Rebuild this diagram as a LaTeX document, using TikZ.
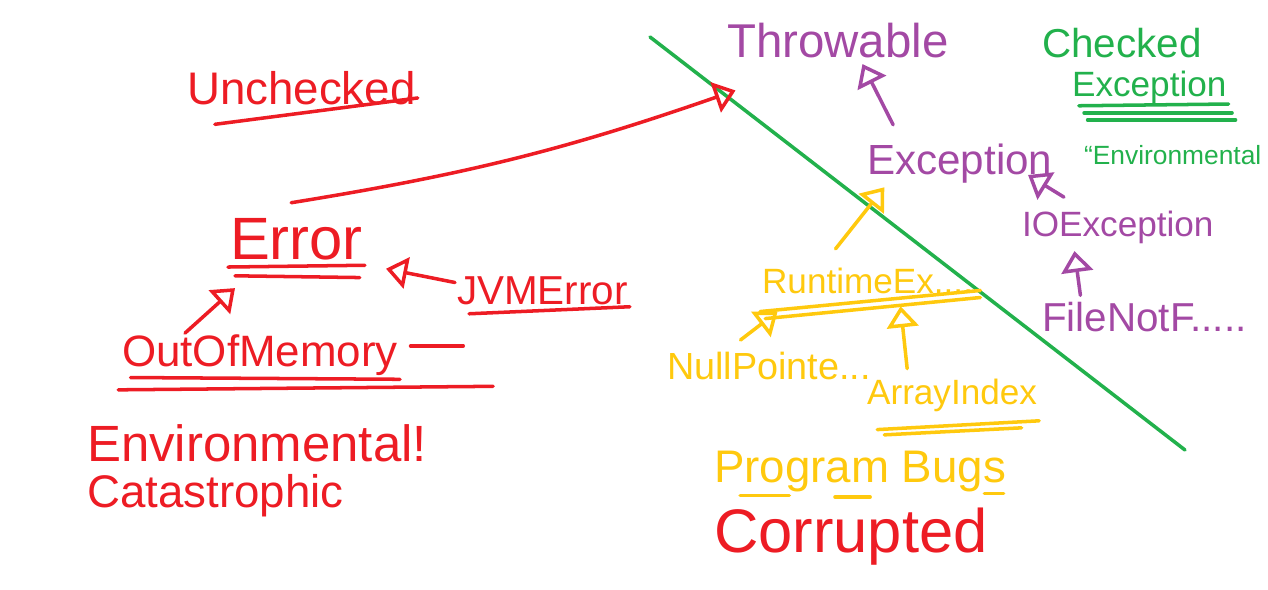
\documentclass[tikz,border=0pt]{standalone}
\usepackage{fontspec}
\setmainfont{Liberation Sans}
\usetikzlibrary{arrows.meta, positioning}
\definecolor{pred}{RGB}{237,28,36}
\definecolor{pgreen}{RGB}{34,177,76}
\definecolor{ppurple}{RGB}{163,73,164}
\definecolor{pyellow}{RGB}{255,201,14}
\newcommand{\hand}[1]{\fontsize{#1}{#1}\selectfont}
\tikzset{
    every node/.style={inner sep=1pt},
    word/.style={anchor=base west, text=#1},
    pen/.style={draw=#1, line width=2pt, line cap=round, line join=round},
    isa/.style={pen=#1, -{Triangle[open, length=12pt, width=18pt, line width=2pt]}},
}

\begin{document}
\begin{tikzpicture}[x=0.02cm, y=-0.02cm]
    \useasboundingbox (0,0) rectangle (1268,590);

    % divider
    \draw[pen=pgreen] (650,37) -- (1185,450);

    % unchecked side
    \node[word=pred, font=\hand{26}] (unc) at (185,105) {Unchecked};
    \draw[pen=pred] ([xshift=17pt,yshift=-11pt]unc.base west) -- ([yshift=4pt]unc.base east);

    \node[word=pred, font=\hand{34}] (err) at (228,260) {Error};
    \draw[pen=pred] ([yshift=-4pt]err.base west) -- ([yshift=-3pt]err.base east);
    \draw[pen=pred] ([xshift=4pt,yshift=-9pt]err.base west) -- ([xshift=-3pt,yshift=-10pt]err.base east);

    \node[word=pred, font=\hand{23}] (jvm) at (455,305) {JVMError};
    \draw[pen=pred] ([xshift=8pt,yshift=-5pt]jvm.base west) -- ([yshift=-1pt]jvm.base east);

    \node[word=pred, font=\hand{25}] (oom) at (120,367) {OutOfMemory};
    \draw[pen=pred] ([xshift=6pt,yshift=-6pt]oom.base west) -- ([yshift=-7pt]oom.base east);
    \draw[pen=pred] ([xshift=-1pt,yshift=-13pt]oom.base west) -- ([xshift=53pt,yshift=-11pt]oom.base east);
    \draw[pen=pred] ([xshift=6pt,yshift=12pt]oom.base east) -- ([xshift=36pt,yshift=12pt]oom.base east);

    \node[word=pred, font=\hand{29}] (env) at (85,462) {Environmental!};
    \node[word=pred, font=\hand{26}] (cat) at (85,508) {Catastrophic};

    % checked side
    \node[word=ppurple, font=\hand{27}] (thr) at (725,58) {Throwable};
    \node[word=ppurple, font=\hand{24}] (exc) at (865,175) {Exception};
    \node[word=ppurple, font=\hand{20}] (ioe) at (1020,237) {IOException};
    \node[word=ppurple, font=\hand{23}] (fnf) at (1040,332) {FileNotF.....};

    \draw[isa=pred] ([xshift=-3pt,yshift=8pt]err.north) to[bend right=5] ([xshift=6pt,yshift=-17pt]thr.south west);
    \draw[isa=pred] ([xshift=37pt]oom.north west) -- ([xshift=4pt,yshift=-16pt]err.base west);
    \draw[isa=pred] ([yshift=5pt]jvm.west) -- ([xshift=12pt,yshift=-5pt]err.base east);

    \draw[isa=ppurple] ([xshift=16pt,yshift=10pt]exc.north west) -- ([xshift=14pt,yshift=-2pt]thr.south);
    \draw[isa=ppurple] ([xshift=25pt,yshift=7pt]ioe.north west) -- ([xshift=-15pt]exc.base east);
    \draw[isa=ppurple] ([xshift=23pt,yshift=3pt]fnf.north west) -- ([xshift=31pt,yshift=-8pt]ioe.base west);

    \node[word=pgreen, font=\hand{23}] (chk) at (1040,58) {Checked};
    \node[word=pgreen, font=\hand{20}] (cexc) at (1070,97) {Exception};
    \draw[pen=pgreen] ([xshift=5pt,yshift=-5pt]cexc.base west) -- ([yshift=-4pt]cexc.base east);
    \draw[pen=pgreen] ([xshift=8pt,yshift=-9pt]cexc.base west) -- ([xshift=2pt,yshift=-9pt]cexc.base east);
    \draw[pen=pgreen] ([xshift=10pt,yshift=-13pt]cexc.base west) -- ([xshift=4pt,yshift=-13pt]cexc.base east);
    \node[word=pgreen, font=\hand{15}] (cenv) at (1082,165) {“Environmental};

    % program bugs
    \node[word=pyellow, font=\hand{20}] (rte) at (760,294) {RuntimeEx....};
    \draw[pen=pyellow] ([yshift=-10pt]rte.base west) -- ([xshift=3pt,yshift=2pt]rte.base east);
    \draw[pen=pyellow] ([xshift=3pt,yshift=-14pt]rte.base west) -- ([xshift=3pt,yshift=-2pt]rte.base east);

    \node[word=pyellow, font=\hand{21.5}] (npe) at (665,380) {NullPointe...};
    \node[word=pyellow, font=\hand{20}] (aie) at (865,405) {ArrayIndex};
    \draw[pen=pyellow] ([xshift=7pt,yshift=-14pt]aie.base west) -- ([yshift=-9pt]aie.base east);
    \draw[pen=pyellow] ([xshift=11pt,yshift=-17pt]aie.base west) -- ([xshift=-10pt,yshift=-13pt]aie.base east);

    \draw[isa=pyellow] ([xshift=43pt,yshift=10pt]rte.north west) -- ([xshift=11pt,yshift=-7pt]exc.base west);
    \draw[isa=pyellow] ([xshift=43pt,yshift=6pt]npe.north west) -- ([xshift=10pt,yshift=-10pt]rte.base west);
    \draw[isa=pyellow] ([xshift=24pt,yshift=5pt]aie.north west) -- ([xshift=80pt,yshift=-7pt]rte.base west);

    \node[word=pyellow, font=\hand{26}] (bugs) at (712,483) {Program Bugs};
    \draw[pen=pyellow] ([xshift=16pt,yshift=-7pt]bugs.base west) -- ([xshift=44pt,yshift=-7pt]bugs.base west);
    \draw[pen=pyellow] ([xshift=70pt,yshift=-8pt]bugs.base west) -- ([xshift=90pt,yshift=-8pt]bugs.base west);
    \draw[pen=pyellow] ([xshift=155pt,yshift=-6pt]bugs.base west) -- ([xshift=166pt,yshift=-6pt]bugs.base west);

    \node[word=pred, font=\hand{35}] (cor) at (712,553) {Corrupted};
\end{tikzpicture}
\end{document}
